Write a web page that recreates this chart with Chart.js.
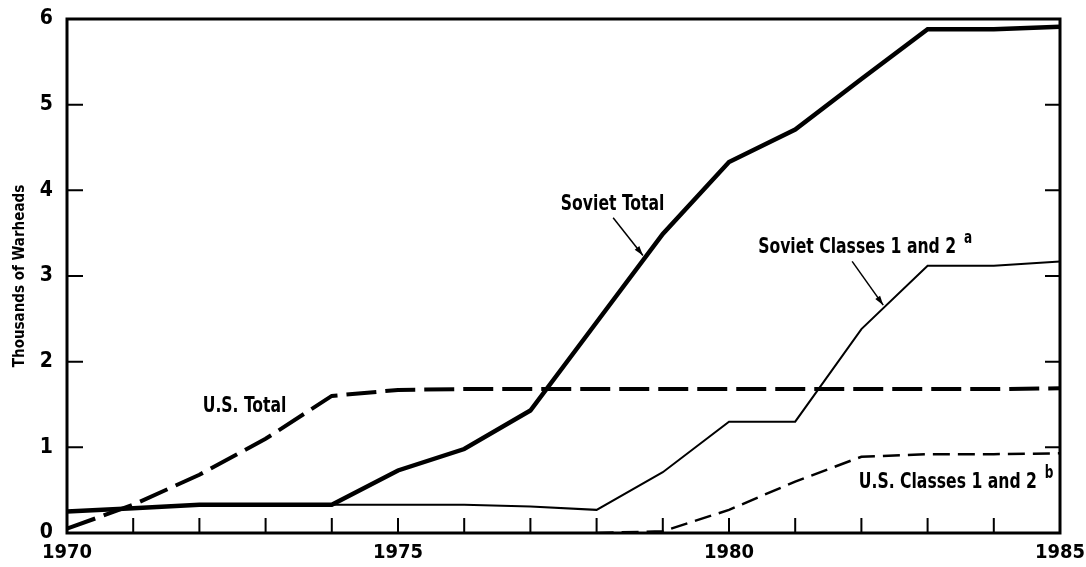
<!DOCTYPE html>
<html>
<head>
<meta charset="utf-8">
<script src="https://cdn.jsdelivr.net/npm/chart.js@4"></script>
<style>
  html, body { margin: 0; padding: 0; background: #ffffff; }
  #wrap { width: 1086px; height: 567px; }
</style>
</head>
<body>
<div id="wrap"><canvas id="grafico" width="1086" height="567"></canvas></div>
<script>
// === Dados (milhares de ogivas) ===
const anos = [1970, 1971, 1972, 1973, 1974, 1975, 1976, 1977, 1978, 1979, 1980, 1981, 1982, 1983, 1984, 1985];
const sovietTotal = [0.25, 0.29, 0.33, 0.33, 0.33, 0.73, 0.98, 1.43, 2.46, 3.49, 4.33, 4.71, 5.30, 5.88, 5.88, 5.91];
const sovietClasses = [0.25, 0.29, 0.33, 0.33, 0.33, 0.33, 0.33, 0.31, 0.27, 0.71, 1.30, 1.30, 2.38, 3.12, 3.12, 3.17];
const usTotal = [0.05, 0.33, 0.68, 1.10, 1.60, 1.67, 1.68, 1.68, 1.68, 1.68, 1.68, 1.68, 1.68, 1.68, 1.68, 1.69];
const usClasses = [null, null, null, null, null, null, null, null, 0.00, 0.02, 0.27, 0.60, 0.89, 0.92, 0.92, 0.93];
const yTicks = [0, 1, 2, 3, 4, 5, 6];
const xLabels = [1970, 1975, 1980, 1985];

const FONTE = "'DejaVu Sans Condensed', 'Liberation Sans Narrow', sans-serif";

function serie(valores) {
    return anos.map((a, i) => ({ x: a, y: valores[i] }));
}

// === Rótulos e setas (em coordenadas de dados) ===
const rotulos = [
    { text: "Soviet Total", x: 1977.46, y: 3.77, sup: null },
    { text: "Soviet Classes 1 and 2", x: 1980.44, y: 3.27, sup: "a" },
    { text: "U.S. Total", x: 1972.05, y: 1.41, sup: null },
    { text: "U.S. Classes 1 and 2", x: 1981.96, y: 0.53, sup: "b" }
];
const setas = [
    { x1: 1978.25, y1: 3.68, x2: 1978.7, y2: 3.24 },
    { x1: 1981.86, y1: 3.17, x2: 1982.33, y2: 2.66 }
];

// === Plugin: moldura, ticks internos, anotações ===
const molduraPlugin = {
    id: "moldura",
    afterDatasetsDraw(chart) {
        const ctx = chart.ctx;
        const area = chart.chartArea;
        const sx = chart.scales.x;
        const sy = chart.scales.y;
        ctx.save();
        ctx.strokeStyle = "#000";
        ctx.lineWidth = 3;
        ctx.strokeRect(area.left, area.top, area.right - area.left, area.bottom - area.top);

        // ticks internos
        ctx.lineWidth = 2;
        ctx.beginPath();
        anos.forEach(a => {
            const px = sx.getPixelForValue(a);
            ctx.moveTo(px, area.bottom);
            ctx.lineTo(px, area.bottom - 15);
        });
        yTicks.forEach(v => {
            const py = sy.getPixelForValue(v);
            ctx.moveTo(area.left, py);
            ctx.lineTo(area.left + 16, py);
            ctx.moveTo(area.right, py);
            ctx.lineTo(area.right - 15, py);
        });
        ctx.stroke();

        // textos (fonte condensada horizontalmente)
        ctx.fillStyle = "#000";
        ctx.textBaseline = "alphabetic";
        ctx.textAlign = "left";
        rotulos.forEach(r => {
            const px = sx.getPixelForValue(r.x);
            const py = sy.getPixelForValue(r.y);
            ctx.save();
            ctx.translate(px, py);
            ctx.scale(0.79, 1);
            ctx.font = "bold 22px " + FONTE;
            ctx.fillText(r.text, 0, 0);
            if (r.sup) {
                const w = ctx.measureText(r.text).width;
                ctx.font = "bold 17px " + FONTE;
                ctx.fillText(r.sup, w + 10, -10);
            }
            ctx.restore();
        });

        // setas
        ctx.lineWidth = 1.5;
        setas.forEach(s => {
            const x1 = sx.getPixelForValue(s.x1), y1 = sy.getPixelForValue(s.y1);
            const x2 = sx.getPixelForValue(s.x2), y2 = sy.getPixelForValue(s.y2);
            ctx.beginPath();
            ctx.moveTo(x1, y1);
            ctx.lineTo(x2, y2);
            ctx.stroke();
            const ang = Math.atan2(y2 - y1, x2 - x1);
            ctx.beginPath();
            ctx.moveTo(x2, y2);
            ctx.lineTo(x2 - 10 * Math.cos(ang - 0.3), y2 - 10 * Math.sin(ang - 0.3));
            ctx.lineTo(x2 - 10 * Math.cos(ang + 0.3), y2 - 10 * Math.sin(ang + 0.3));
            ctx.closePath();
            ctx.fill();
        });
        ctx.restore();
    }
};

const grafico = new Chart(document.getElementById("grafico"), {
    type: "line",
    data: {
        datasets: [
            { label: "U.S. Total", data: serie(usTotal), borderColor: "#000", borderWidth: 4, borderDash: [30, 9] },
            { label: "U.S. Classes 1 and 2", data: serie(usClasses), borderColor: "#000", borderWidth: 2.5, borderDash: [17, 8] },
            { label: "Soviet Classes 1 and 2", data: serie(sovietClasses), borderColor: "#000", borderWidth: 2 },
            { label: "Soviet Total", data: serie(sovietTotal), borderColor: "#000", borderWidth: 4.5 }
        ]
    },
    options: {
        responsive: false,
        animation: false,
        spanGaps: false,
        elements: {
            point: { radius: 0 },
            line: { tension: 0, borderCapStyle: "butt", borderJoinStyle: "miter", fill: false }
        },
        layout: { padding: { top: 19, right: 26, left: 0, bottom: 0 } },
        plugins: {
            legend: { display: false },
            tooltip: { enabled: false }
        },
        scales: {
            x: {
                type: "linear",
                min: 1970,
                max: 1985,
                afterFit(scale) {
                    scale.height = 34;
                    scale.paddingLeft = 0;
                    scale.paddingRight = 0;
                },
                afterBuildTicks(scale) { scale.ticks = xLabels.map(v => ({ value: v })); },
                grid: { display: false, drawTicks: false },
                border: { display: false },
                ticks: {
                    color: "#000",
                    padding: 8,
                    maxRotation: 0,
                    autoSkip: false,
                    font: { family: FONTE, size: 20, weight: "bold" },
                    callback: v => String(v)
                }
            },
            y: {
                min: 0,
                max: 6,
                afterFit(scale) {
                    scale.width = 67;
                    scale.paddingTop = 0;
                    scale.paddingBottom = 0;
                },
                afterBuildTicks(scale) { scale.ticks = yTicks.map(v => ({ value: v })); },
                grid: { display: false, drawTicks: false },
                border: { display: false },
                ticks: {
                    color: "#000",
                    padding: 14,
                    font: { family: FONTE, size: 21, weight: "bold" }
                },
                title: {
                    display: true,
                    text: "Thousands of Warheads",
                    color: "#000",
                    padding: { top: 11, bottom: 0 },
                    font: { family: FONTE, size: 15, weight: "bold" }
                }
            }
        }
    },
    plugins: [molduraPlugin]
});
</script>
</body>
</html>
